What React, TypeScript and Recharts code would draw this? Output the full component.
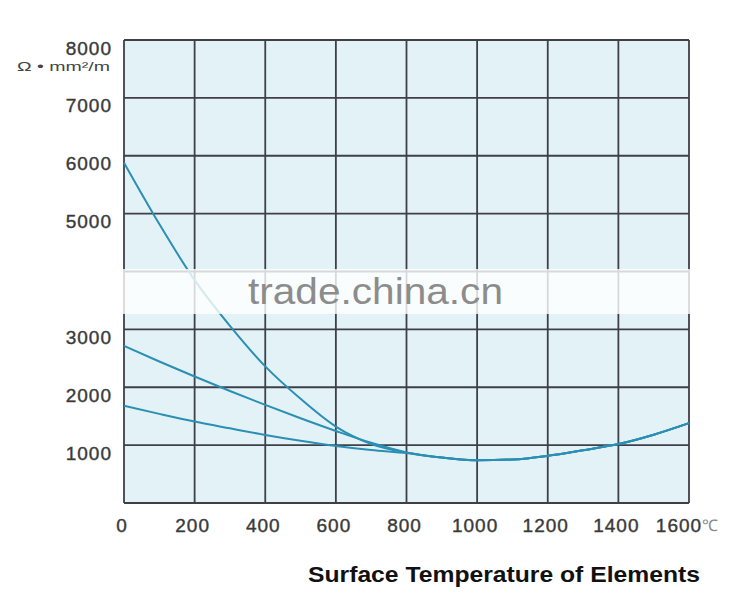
import React from "react";
import { LineChart, Line, XAxis, YAxis, CartesianGrid } from "recharts";

const temperatures = [0, 100, 200, 300, 400, 500, 600, 700, 800, 900, 1000, 1100, 1200, 1300, 1400, 1500, 1600];
const curveHigh = [5880, 4820, 3850, 3060, 2360, 1800, 1320, 1020, 870, 785, 738, 752, 815, 912, 1018, 1180, 1380];
const curveMid = [2716, 2445, 2185, 1935, 1695, 1465, 1245, 1040, 875, 785, 738, 752, 815, 912, 1018, 1180, 1380];
const curveLow = [1680, 1540, 1407, 1290, 1176, 1075, 986, 915, 862, 785, 738, 752, 815, 912, 1018, 1180, 1380];
const xTicks = [0, 200, 400, 600, 800, 1000, 1200, 1400, 1600];
const yTicks = [0, 1000, 2000, 3000, 4000, 5000, 6000, 7000, 8000];
const hiddenYLabels = [0, 4000];
const yUnit = "Ω • mm²/m";
const xUnit = "℃";
const title = "Surface Temperature of Elements";
const watermark = "trade.china.cn";

const data = temperatures.map((t, i) => ({
  t,
  high: curveHigh[i],
  mid: curveMid[i],
  low: curveLow[i],
}));

const FONT = "'Liberation Sans', Arial, sans-serif";
const LINE = "#2b8fb3";
const GRID = "#3f3f4a";
const TICK = "#3a3a3a";

const YTick = (props: any) => {
  const { x, y, payload } = props;
  if (hiddenYLabels.includes(payload.value)) return null;
  return (
    <text x={x} y={y + 8} textAnchor="end" dominantBaseline="central" fontFamily={FONT} fontSize={19} letterSpacing={1} fill={TICK} stroke={TICK} strokeWidth={0.4}>
      {payload.value}
    </text>
  );
};

const XTick = (props: any) => {
  const { x, y, payload } = props;
  if (payload.value === xTicks[xTicks.length - 1]) {
    return (
      <g>
        <text x={x - 10} y={y + 22} textAnchor="middle" dominantBaseline="central" fontFamily={FONT} fontSize={19} letterSpacing={1} fill={TICK} stroke={TICK} strokeWidth={0.4}>
          {payload.value}
        </text>
        <text x={x + 13} y={y + 22} textAnchor="start" dominantBaseline="central" fontFamily={FONT} fontSize={16} fill="#8a8a8a">
          {xUnit}
        </text>
      </g>
    );
  }
  return (
    <text x={x - 2} y={y + 22} textAnchor="middle" dominantBaseline="central" fontFamily={FONT} fontSize={19} letterSpacing={1} fill={TICK} stroke={TICK} strokeWidth={0.4}>
      {payload.value}
    </text>
  );
};

export default function App() {
  return (
    <div style={{ position: "absolute", left: 0, top: 0, width: 750, height: 613, background: "#ffffff", overflow: "hidden" }}>
      <LineChart width={750} height={613} data={data} margin={{ top: 40, right: 61, bottom: 70, left: 64 }}>
        <CartesianGrid stroke={GRID} strokeWidth={1.8} fill="#e3f2f7" fillOpacity={1} />
        <XAxis
          dataKey="t"
          type="number"
          domain={[0, 1600]}
          ticks={xTicks}
          axisLine={false}
          tickLine={false}
          tickSize={0}
          tickMargin={0}
          height={40}
          tick={<XTick />}
          interval={0}
        />
        <YAxis
          type="number"
          domain={[0, 8000]}
          ticks={yTicks}
          axisLine={false}
          tickLine={false}
          tickSize={0}
          tickMargin={12}
          width={60}
          tick={<YTick />}
          interval={0}
        />
        <Line type="monotone" dataKey="high" stroke={LINE} strokeWidth={2} dot={false} isAnimationActive={false} />
        <Line type="monotone" dataKey="mid" stroke={LINE} strokeWidth={2} dot={false} isAnimationActive={false} />
        <Line type="monotone" dataKey="low" stroke={LINE} strokeWidth={2} dot={false} isAnimationActive={false} />
      </LineChart>
      <div style={{ position: "absolute", left: 0, top: 269, width: 750, height: 45, background: "rgba(255,255,255,0.8)" }} />
      <svg width={750} height={613} style={{ position: "absolute", left: 0, top: 0, pointerEvents: "none" }}>
        <text x={110} y={71} textAnchor="end" fontFamily={FONT} fontSize={13} fill="#444" textLength={93} lengthAdjust="spacingAndGlyphs">
          {yUnit}
        </text>
        <text x={248} y={304} fontFamily={FONT} fontSize={37} fill="#8c8c8c" textLength={255} lengthAdjust="spacingAndGlyphs">
          {watermark}
        </text>
        <text x={504} y={582} textAnchor="middle" fontFamily={FONT} fontSize={22} fontWeight="bold" fill="#111" textLength={392} lengthAdjust="spacingAndGlyphs">
          {title}
        </text>
      </svg>
    </div>
  );
}
